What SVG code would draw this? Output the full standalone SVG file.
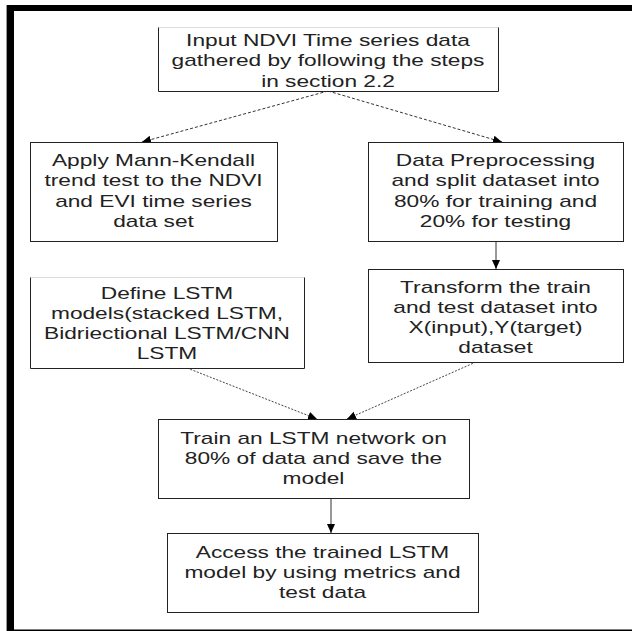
<svg xmlns="http://www.w3.org/2000/svg" width="632" height="631" viewBox="0 0 632 631">
<style>
.box{fill:#fff;stroke:#222;stroke-width:1}
.bg{fill:#fff;stroke:none}
.side{fill:none;stroke:#222;stroke-width:1}
.faint{fill:none;stroke:#ddd;stroke-width:1}
.t{font-family:"Liberation Sans",Arial,sans-serif;font-size:16px;fill:#222;text-anchor:middle}
.c{fill:none;stroke:#333;stroke-width:1}
.d{stroke-dasharray:3 2}
.f{stroke-dasharray:2 1.5;stroke:#444}
</style>
<defs>
<marker id="ah" markerUnits="userSpaceOnUse" markerWidth="10" markerHeight="10" viewBox="0 0 10 10" refX="9" refY="5" orient="auto">
<path d="M0,1 L9,5 L0,9 Z" fill="#000"/>
</marker>
</defs>
<rect width="632" height="631" fill="#fff"/>
<g id="frame">
<rect x="7" y="5" width="625" height="6" fill="#000"/>
<rect x="7" y="5" width="7" height="626" fill="#000"/>
<rect x="6" y="5" width="1" height="626" fill="#999"/>
<rect x="14" y="629.5" width="618" height="1.5" fill="#000"/>
</g>
<g id="connectors">
<line class="c d" x1="328" y1="91" x2="142" y2="142" marker-end="url(#ah)"/>
<line class="c d" x1="328" y1="91" x2="502" y2="142" marker-end="url(#ah)"/>
<line class="c" x1="496" y1="241" x2="496" y2="269" marker-end="url(#ah)"/>
<line class="c f" x1="187" y1="368" x2="317" y2="419" marker-end="url(#ah)"/>
<line class="c f" x1="476" y1="362" x2="347" y2="419" marker-end="url(#ah)"/>
<line class="c" x1="331" y1="498" x2="331" y2="533" marker-end="url(#ah)"/>
</g>
<g id="input">
<rect class="bg" x="158.5" y="27.5" width="340" height="64"/>
<path class="faint" d="M158.5,27.5 H498.5"/>
<path class="side" d="M158.5,27.5 V91.5 H498.5 V27.5"/>
<text class="t" transform="matrix(1.42 0 0 1 328 46)"><tspan x="0" y="0">Input NDVI Time series data</tspan><tspan x="0" y="20.5">gathered by following the steps</tspan><tspan x="0" y="41">in section 2.2</tspan></text>
</g>
<g id="mannkendall">
<rect class="box" x="30.5" y="142.5" width="247" height="99"/>
<text class="t" transform="matrix(1.42 0 0 1 153.5 166)"><tspan x="0" y="0">Apply Mann-Kendall</tspan><tspan x="0" y="20.5">trend test to the NDVI</tspan><tspan x="0" y="41">and EVI time series</tspan><tspan x="0" y="61.5">data set</tspan></text>
</g>
<g id="preprocessing">
<rect class="box" x="368.5" y="142.5" width="255" height="99"/>
<text class="t" transform="matrix(1.42 0 0 1 495.5 166)"><tspan x="0" y="0">Data Preprocessing</tspan><tspan x="0" y="20.5">and split dataset into</tspan><tspan x="0" y="41">80% for training and</tspan><tspan x="0" y="61.5">20% for testing</tspan></text>
</g>
<g id="define">
<rect class="bg" x="30.5" y="277.5" width="274" height="91"/>
<path class="faint" d="M30.5,277.5 H304.5"/>
<path class="side" d="M30.5,277.5 V368.5 H304.5 V277.5"/>
<text class="t" transform="matrix(1.42 0 0 1 167 299)"><tspan x="0" y="0">Define LSTM</tspan><tspan x="0" y="20">models(stacked LSTM,</tspan><tspan x="0" y="40">Bidriectional LSTM/CNN</tspan><tspan x="0" y="60">LSTM</tspan></text>
</g>
<g id="transform">
<rect class="box" x="368.5" y="269.5" width="255" height="93"/>
<text class="t" transform="matrix(1.42 0 0 1 495.5 293)"><tspan x="0" y="0">Transform the train</tspan><tspan x="0" y="20">and test dataset into</tspan><tspan x="0" y="40">X(input),Y(target)</tspan><tspan x="0" y="60">dataset</tspan></text>
</g>
<g id="train">
<rect class="box" x="158.5" y="419.5" width="311" height="79"/>
<text class="t" transform="matrix(1.42 0 0 1 313.5 444)"><tspan x="0" y="0">Train an LSTM network on</tspan><tspan x="0" y="20">80% of data and save the</tspan><tspan x="0" y="40">model</tspan></text>
</g>
<g id="access">
<rect class="box" x="167.5" y="533.5" width="311" height="79"/>
<text class="t" transform="matrix(1.42 0 0 1 322.5 558)"><tspan x="0" y="0">Access the trained LSTM</tspan><tspan x="0" y="20">model by using metrics and</tspan><tspan x="0" y="40">test data</tspan></text>
</g>
</svg>
